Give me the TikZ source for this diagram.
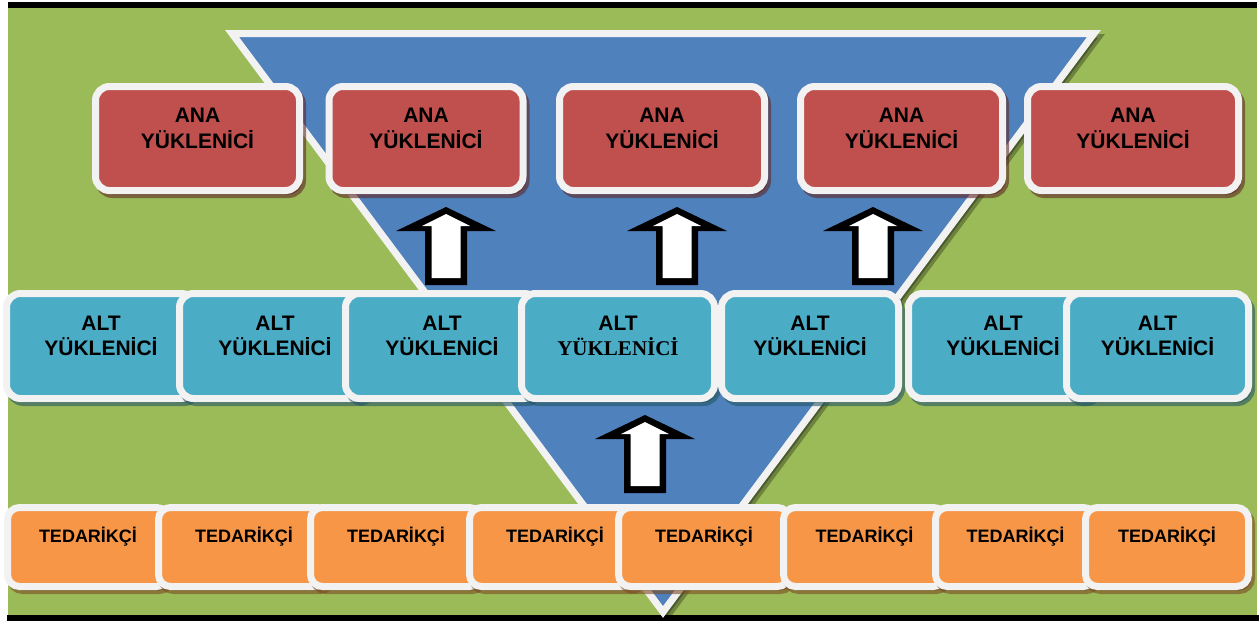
\documentclass[tikz,border=0pt]{standalone}
\usepackage{fontspec}
\setmainfont{Liberation Sans}
\newfontfamily\serifface{Liberation Serif}
\usetikzlibrary{shadows}

\definecolor{bggreen}{HTML}{9BBB59}
\definecolor{funnelblue}{HTML}{4F81BD}
\definecolor{anared}{HTML}{C0504D}
\definecolor{altteal}{HTML}{4BACC6}
\definecolor{tedorange}{HTML}{F79646}
\definecolor{rim}{HTML}{F2F2F2}

\tikzset{
  tile/.style={rounded corners=14pt, draw=rim, line width=7pt, inner sep=0pt},
  tileshadow/.style={drop shadow={shadow xshift=3pt, shadow yshift=-4pt,
      fill=#1, draw=#1, line width=7pt, opacity=0.6}},
  anabox/.style={tile, fill=anared, minimum height=104pt, tileshadow=anared!50!black},
  altbox/.style={tile, fill=altteal, minimum height=105pt, tileshadow=altteal!50!black},
  tedbox/.style={tile, rounded corners=12pt, fill=tedorange, minimum height=79pt,
      tileshadow=tedorange!50!black},
  bigtext/.style={font=\bfseries\fontsize{21}{26}\selectfont, align=center,
      inner sep=0pt, anchor=north},
  alttext/.style={bigtext, font=\bfseries\fontsize{21}{25}\selectfont},
  tedtext/.style={font=\bfseries\fontsize{18}{22}\selectfont, inner sep=0pt, anchor=base},
  uparrow/.pic={
    \fill[black] (0,0) -- (50,24) -- (21,24) -- (21,78) -- (-21,78) -- (-21,24)
      -- (-50,24) -- cycle;
    \fill[white] (0,7) -- (24,19) -- (14.5,19) -- (14.5,71) -- (-14.5,71)
      -- (-14.5,19) -- (-24,19) -- cycle;
  }
}

\begin{document}
\begin{tikzpicture}[x=1pt,y=-1pt]
  \useasboundingbox (0,0) rectangle (1259,621);
  \fill[white] (0,0) rectangle (1259,621);

  % background panel with black rules
  \fill[bggreen] (8,8) rectangle (1257,615);
  \fill[black] (8,2) rectangle (1257,8);
  \fill[black] (7,615) rectangle (1259,621);

  % funnel
  \filldraw[fill=black, draw=black, line width=7pt, opacity=0.3]
    (236,37.5) -- (1098,37.5) -- (667,616) -- cycle;
  \filldraw[fill=funnelblue, draw=rim, line width=7pt]
    (232,33.5) -- (1094,33.5) -- (663,612) -- cycle;

  % upward block arrows
  \pic at (446,207) {uparrow};
  \pic at (677,207) {uparrow};
  \pic at (873,207) {uparrow};
  \pic at (645,415) {uparrow};

  % main contractors
  \node[anabox, minimum width=204pt] (ana1) at (197.5,138.5) {};
  \node[anabox, minimum width=194pt] (ana2) at (426,138.5) {};
  \node[anabox, minimum width=205pt] (ana3) at (662,138.5) {};
  \node[anabox, minimum width=202pt] (ana4) at (901.5,138.5) {};
  \node[anabox, minimum width=211pt] (ana5) at (1133,138.5) {};
  \foreach \n in {1,...,5}
    \node[bigtext] (anat\n) at ([yshift=-25pt]ana\n.north) {ANA\\YÜKLENİCİ};

  % subcontractors
  \node[altbox, minimum width=189pt] (alt1) at (101,346) {};
  \node[altbox, minimum width=191pt] (alt2) at (275,346) {};
  \node[altbox, minimum width=193pt] (alt3) at (442,346) {};
  \node[altbox, minimum width=193pt] (alt4) at (618,346) {};
  \node[altbox, minimum width=177pt] (alt5) at (810,346) {};
  \node[altbox, minimum width=189pt] (alt6) at (1003,346) {};
  \node[altbox, minimum width=182pt] (alt7) at (1157.5,346) {};
  \foreach \n in {1,2,3,5,6,7}
    \node[alttext] (altt\n) at ([yshift=-26pt]alt\n.north) {ALT\\YÜKLENİCİ};
  \node[alttext] (altt4) at ([yshift=-26pt]alt4.north)
    {ALT\\{\serifface\bfseries YÜKLENİCİ}};

  % suppliers
  \node[tedbox, minimum width=161pt] (ted1) at (88,547) {};
  \node[tedbox, minimum width=171pt] (ted2) at (244,547) {};
  \node[tedbox, minimum width=171pt] (ted3) at (396,547) {};
  \node[tedbox, minimum width=171pt] (ted4) at (555,547) {};
  \node[tedbox, minimum width=171pt] (ted5) at (704,547) {};
  \node[tedbox, minimum width=162pt] (ted6) at (864.5,547) {};
  \node[tedbox, minimum width=160pt] (ted7) at (1015.5,547) {};
  \node[tedbox, minimum width=163pt] (ted8) at (1167,547) {};
  \foreach \n in {1,...,8}
    \node[tedtext] (tedt\n) at ([yshift=-38pt]ted\n.north) {TEDARİKÇİ};
\end{tikzpicture}
\end{document}
